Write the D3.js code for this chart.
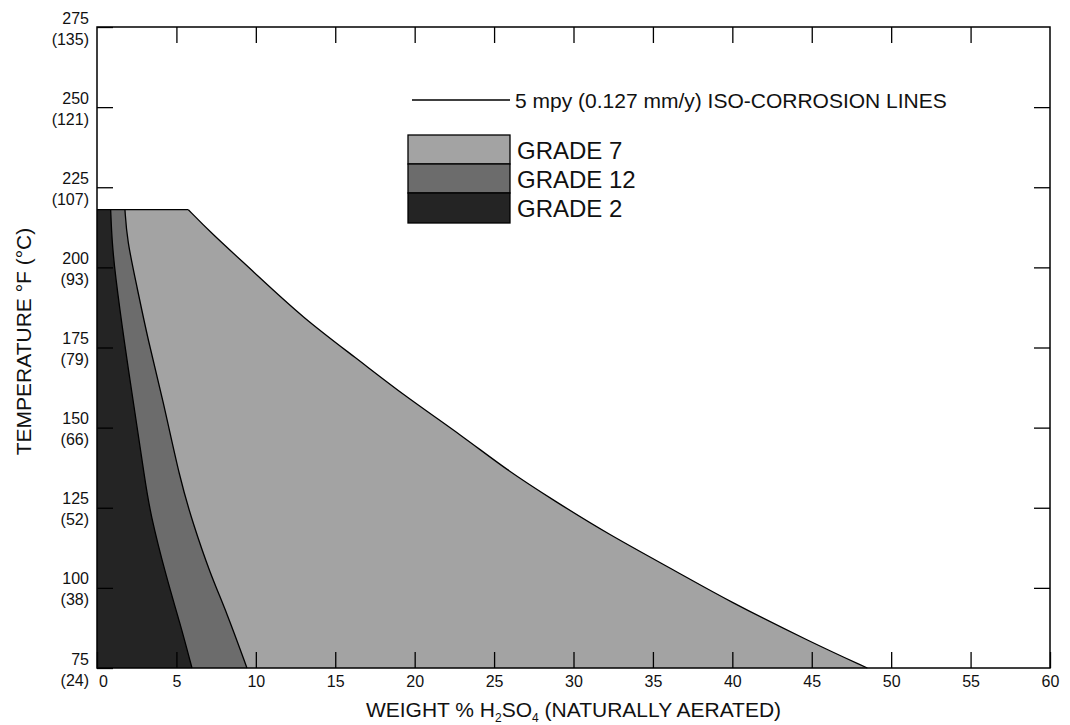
<!DOCTYPE html>
<html>
  <head>
    <meta charset="utf-8">
    <title>Iso-corrosion chart</title>
    <script src="https://d3js.org/d3.v7.min.js"></script>
    <style>
      body { margin: 0; background: #fff; }
      text { font-family: "Liberation Sans", Arial, sans-serif; fill: #111; }
    </style>
  </head>
  <body>
    <div id="chart"></div>
    <script>

      // axis values
      var xTicks = [0, 5, 10, 15, 20, 25, 30, 35, 40, 45, 50, 55, 60];
      var tempF = [75, 100, 125, 150, 175, 200, 225, 250, 275];
      var tempC = ["(24)", "(38)", "(52)", "(66)", "(79)", "(93)", "(107)", "(121)", "(135)"];

      // flat top of all regions, deg F
      var topTemp = 218;

      // 5 mpy iso-corrosion lines, [wt% H2SO4, deg F]
      var grade7Edge = [[5.75, 218], [7.11, 211.1], [9.84, 198.7], [12.99, 184.1], [16.35, 171.6],
        [19.28, 160.2], [23.06, 147.2], [25.79, 136.8], [28.73, 127.4], [32.09, 117.0],
        [36.71, 104.5], [39.65, 96.2], [45.10, 82.7], [48.5, 75]];
      var grade12Edge = [[1.76, 218], [1.89, 208.5], [2.52, 193.9], [3.21, 177.3], [4.16, 158.6],
        [5.23, 133.7], [6.04, 120.2], [7.11, 104.6], [8.18, 92.2], [9.44, 75]];
      var grade2Edge = [[0.86, 218], [0.94, 208.5], [1.13, 198.2], [1.76, 175.2], [2.27, 158.6],
        [3.02, 133.7], [3.34, 123.4], [4.41, 102.5], [5.23, 89.0], [5.98, 75]];

      var gradeNames = ["GRADE 7", "GRADE 12", "GRADE 2"];
      var gradeColors = ["#a3a3a3", "#6c6c6c", "#242424"];
      var gradeEdges = [grade7Edge, grade12Edge, grade2Edge];

      var W = 1070, H = 725;
      var margin = {top: 27, right: 20, bottom: 57, left: 97};

      var svg = d3.select("#chart").append("svg")
        .attr("width", W)
        .attr("height", H);

      var x = d3.scaleLinear().domain([0, 60]).range([margin.left, W - margin.right]);
      var y = d3.scaleLinear().domain([75, 275]).range([H - margin.bottom, margin.top]);

      var line = d3.line()
        .x(function(d) { return x(d[0]); })
        .y(function(d) { return y(d[1]); });

      // smoothed version for the iso-corrosion curves
      var curve = d3.line()
        .x(function(d) { return x(d[0]); })
        .y(function(d) { return y(d[1]); })
        .curve(d3.curveBasis);

      // regions, widest first so the darker ones sit on top
      gradeEdges.forEach(function(edge, i) {
        var d = line([[0, 75], [0, topTemp]]) + "L" + curve(edge).slice(1) + "Z";
        svg.append("path")
          .attr("d", d)
          .attr("fill", gradeColors[i])
          .attr("stroke", "none");
      });

      // top flat edge and iso-corrosion lines
      svg.append("path")
        .attr("d", line([[0, topTemp], grade7Edge[0]]))
        .attr("fill", "none")
        .attr("stroke", "#000")
        .attr("stroke-width", 1.3);
      gradeEdges.forEach(function(edge) {
        svg.append("path")
          .attr("d", curve(edge))
          .attr("fill", "none")
          .attr("stroke", "#000")
          .attr("stroke-width", 1.3);
      });

      // axes, ticks pointing inward
      var xAxis = svg.append("g")
        .attr("transform", "translate(0," + y(75) + ")")
        .call(d3.axisBottom(x).tickValues(xTicks).tickSizeInner(-16).tickSizeOuter(0).tickPadding(8));
      xAxis.selectAll("text")
        .attr("font-size", 16)
        .attr("x", function(d) { return d === 0 ? 6 : 0; });

      svg.append("g")
        .attr("transform", "translate(0," + y(275) + ")")
        .call(d3.axisTop(x).tickValues(xTicks.slice(1, -1)).tickSizeInner(-16).tickSizeOuter(0).tickFormat(""));

      var yAxis = svg.append("g")
        .attr("transform", "translate(" + x(0) + ",0)")
        .call(d3.axisLeft(y).tickValues(tempF).tickSizeInner(-16).tickSizeOuter(0).tickPadding(8));
      yAxis.selectAll(".tick text")
        .attr("font-size", 16)
        .attr("dy", null)
        .text(null)
        .each(function(d, i) {
          var t = d3.select(this);
          t.append("tspan").attr("x", -8).attr("y", -4).text(d);
          t.append("tspan").attr("x", -8).attr("y", 17).text(tempC[i]);
        });

      svg.append("g")
        .attr("transform", "translate(" + x(60) + ",0)")
        .call(d3.axisRight(y).tickValues(tempF.slice(1, -1)).tickSizeInner(-16).tickSizeOuter(0).tickFormat(""));

      svg.selectAll(".domain").remove();
      svg.selectAll(".tick line").attr("stroke", "#000").attr("stroke-width", 1.3);

      // frame
      svg.append("rect")
        .attr("x", x(0))
        .attr("y", y(275))
        .attr("width", x(60) - x(0))
        .attr("height", y(75) - y(275))
        .attr("fill", "none")
        .attr("stroke", "#000")
        .attr("stroke-width", 1.5);

      // axis titles
      var xt = svg.append("text")
        .attr("x", (x(0) + x(60)) / 2)
        .attr("y", 717)
        .attr("text-anchor", "middle")
        .attr("font-size", 21);
      xt.append("tspan").text("WEIGHT % H");
      xt.append("tspan").attr("font-size", 12).attr("dy", 5).text("2");
      xt.append("tspan").attr("dy", -5).text("SO");
      xt.append("tspan").attr("font-size", 12).attr("dy", 5).text("4");
      xt.append("tspan").attr("dy", -5).text(" (NATURALLY AERATED)");

      svg.append("text")
        .attr("transform", "translate(31," + ((y(75) + y(275)) / 2 - 6) + ") rotate(-90)")
        .attr("text-anchor", "middle")
        .attr("font-size", 21)
        .text("TEMPERATURE \u00B0F (\u00B0C)");

      // legend
      var legend = svg.append("g");
      legend.append("line")
        .attr("x1", 412).attr("x2", 510)
        .attr("y1", 100).attr("y2", 100)
        .attr("stroke", "#000")
        .attr("stroke-width", 1.3);
      legend.append("text")
        .attr("x", 515)
        .attr("y", 107.5)
        .attr("font-size", 21)
        .text("5 mpy (0.127 mm/y) ISO-CORROSION LINES");

      var rowTop = [135, 164, 193], rowH = [29, 29, 30];
      gradeNames.forEach(function(name, i) {
        legend.append("rect")
          .attr("x", 408)
          .attr("y", rowTop[i])
          .attr("width", 102)
          .attr("height", rowH[i])
          .attr("fill", gradeColors[i])
          .attr("stroke", "#000")
          .attr("stroke-width", 1.3);
        legend.append("text")
          .attr("x", 517)
          .attr("y", rowTop[i] + rowH[i] / 2 + 9)
          .attr("font-size", 24)
          .text(name);
      });

    </script>
  </body>
</html>
